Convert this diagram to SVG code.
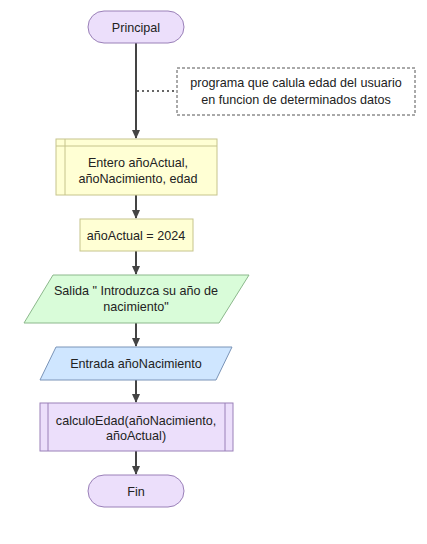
<svg xmlns="http://www.w3.org/2000/svg" width="427" height="544" viewBox="0 0 427 544">
<style>
text{font-family:"Liberation Sans",Arial,sans-serif;font-size:12.6px;fill:#222;text-anchor:middle}
.term{fill:#ecdffb;stroke:#9a80b8;stroke-width:1}
.decl{fill:#ffffd4;stroke:#c6c48c;stroke-width:1}
.out{fill:#d9fcd9;stroke:#8cb88c;stroke-width:1}
.in{fill:#cfe6ff;stroke:#7a94b8;stroke-width:1}
.sub{fill:#ecdffb;stroke:#9a80b8;stroke-width:1}
.edge{stroke:#444;stroke-width:2;fill:none}
</style>
<defs>
<marker id="arr" markerWidth="10" markerHeight="10" refX="8" refY="5" orient="auto" markerUnits="userSpaceOnUse">
<path d="M0,1 L9,5 L0,9 Z" fill="#444"/>
</marker>
</defs>
<g id="connectors">
<line class="edge" x1="136" y1="43" x2="136" y2="138" marker-end="url(#arr)"/>
<line x1="137" y1="91" x2="177" y2="91" stroke="#666" stroke-width="2" stroke-dasharray="2,3"/>
<line class="edge" x1="136" y1="195" x2="136" y2="218" marker-end="url(#arr)"/>
<line class="edge" x1="136" y1="251" x2="136" y2="274" marker-end="url(#arr)"/>
<line class="edge" x1="136" y1="323" x2="136" y2="346" marker-end="url(#arr)"/>
<line class="edge" x1="136" y1="380" x2="136" y2="402" marker-end="url(#arr)"/>
<line class="edge" x1="136" y1="451" x2="136" y2="474" marker-end="url(#arr)"/>
</g>
<g id="principal">
<rect class="term" x="88" y="11" width="96" height="32" rx="16"/>
<text x="136" y="31.5">Principal</text>
</g>
<g id="comment">
<rect x="177" y="68" width="238" height="47" fill="#fff" stroke="#555" stroke-width="1" stroke-dasharray="3,2"/>
<text x="296" y="87">programa que calula edad del usuario</text>
<text x="296" y="104">en funcion de determinados datos</text>
</g>
<g id="entero">
<rect class="decl" x="56" y="139" width="161" height="56"/>
<line x1="65" y1="139" x2="65" y2="195" stroke="#c6c48c"/>
<line x1="56" y1="146" x2="217" y2="146" stroke="#c6c48c"/>
<text x="138" y="167">Entero añoActual,</text>
<text x="138" y="183">añoNacimiento, edad</text>
</g>
<g id="asignacion">
<rect class="decl" x="80" y="219" width="113" height="32"/>
<text x="136" y="240">añoActual = 2024</text>
</g>
<g id="salida">
<polygon class="out" points="53,275 249,275 219,323 24,323"/>
<text x="136" y="295">Salida " Introduzca su año de</text>
<text x="136" y="311">nacimiento"</text>
</g>
<g id="entrada">
<polygon class="in" points="56,347 232,347 216,380 40,380"/>
<text x="136" y="368">Entrada añoNacimiento</text>
</g>
<g id="calculo">
<rect class="sub" x="40" y="403" width="193" height="48"/>
<line x1="48" y1="403" x2="48" y2="451" stroke="#9a80b8"/>
<line x1="225" y1="403" x2="225" y2="451" stroke="#9a80b8"/>
<text x="136" y="425">calculoEdad(añoNacimiento,</text>
<text x="136" y="440">añoActual)</text>
</g>
<g id="fin">
<rect class="term" x="88" y="475" width="96" height="32" rx="16"/>
<text x="136" y="495.5">Fin</text>
</g>
</svg>
